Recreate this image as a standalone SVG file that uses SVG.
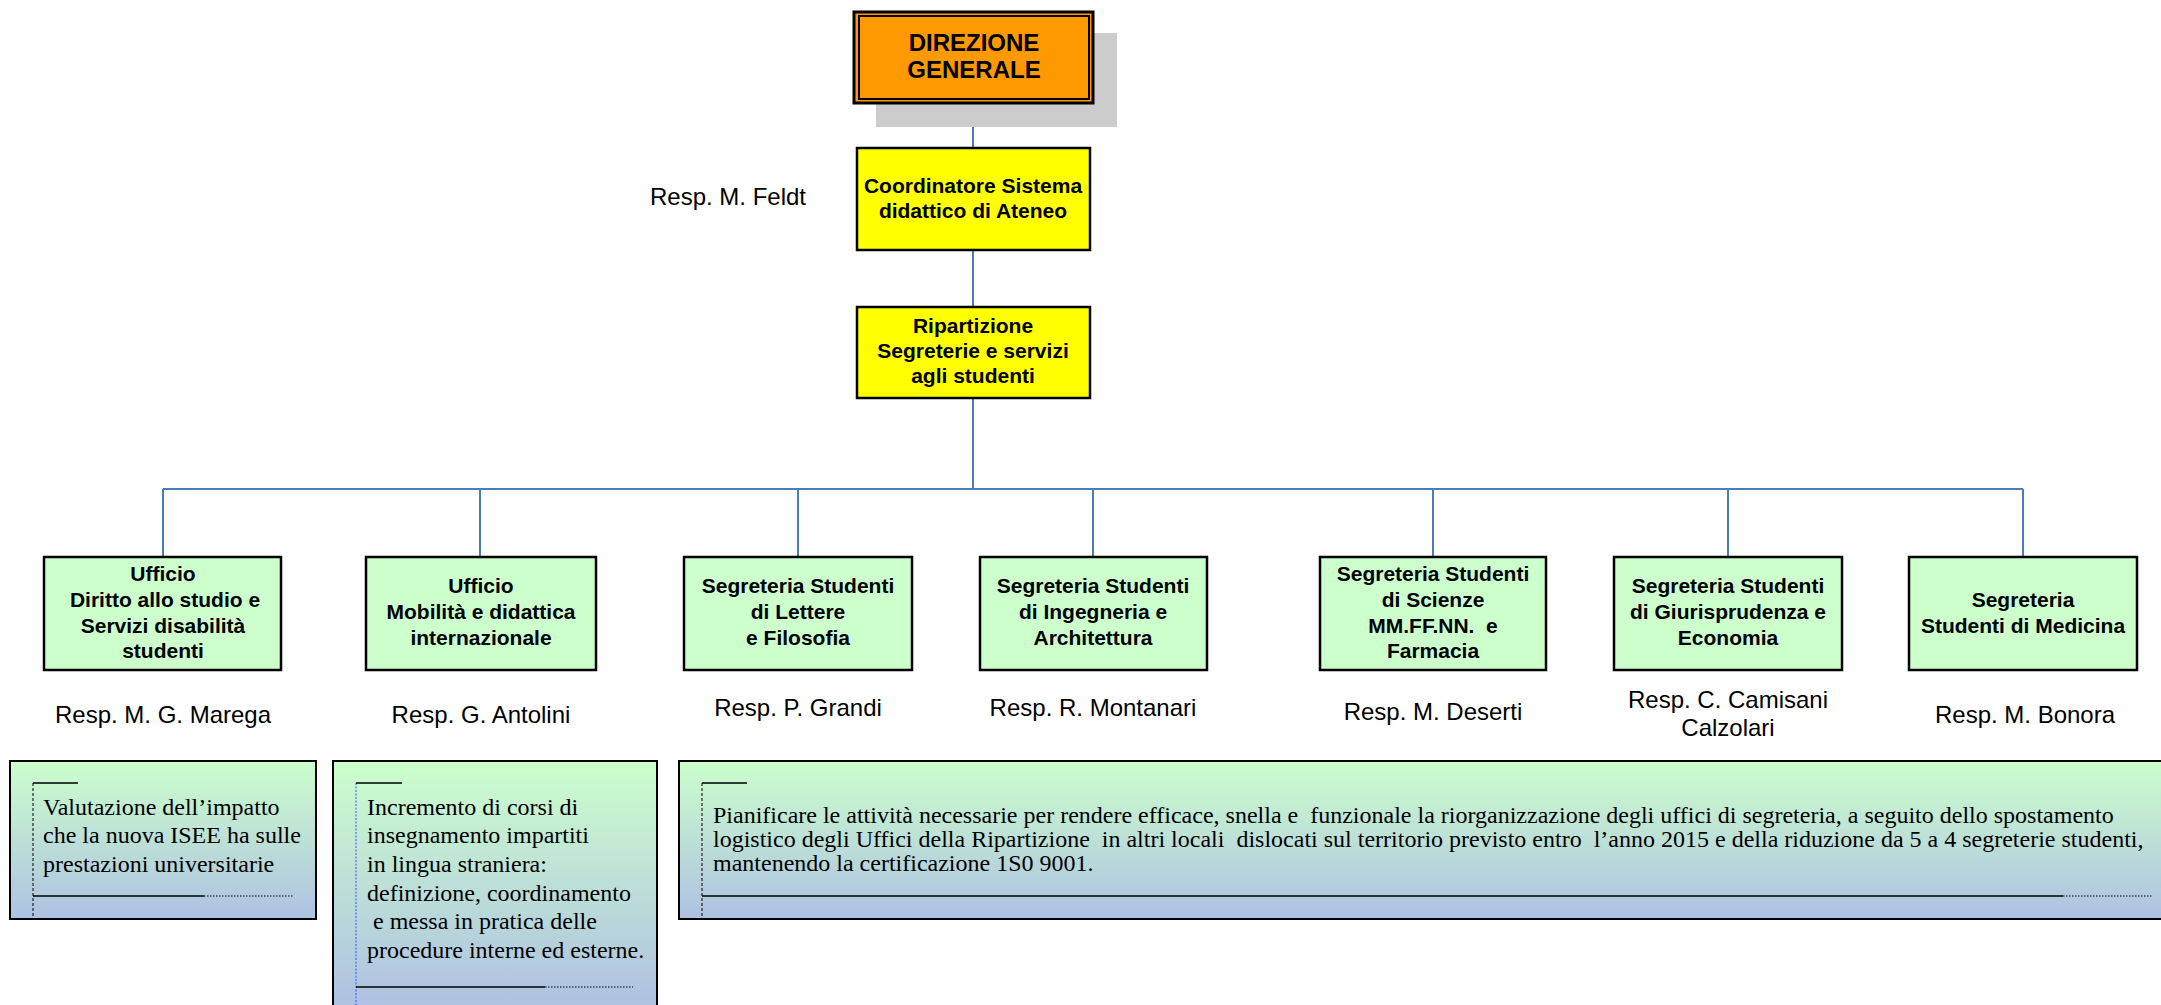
<svg xmlns="http://www.w3.org/2000/svg" width="2161" height="1005" viewBox="0 0 2161 1005">
<defs>
<linearGradient id="gr" x1="0" y1="0" x2="0" y2="1">
<stop offset="0" stop-color="#ccffcc"/>
<stop offset="1" stop-color="#aec1e2"/>
</linearGradient>
<linearGradient id="grB" gradientUnits="userSpaceOnUse" x1="0" y1="761" x2="0" y2="1005">
<stop offset="0" stop-color="#ccffcc"/>
<stop offset="1" stop-color="#aec1e2"/>
</linearGradient>
<style>
.b{font-family:"Liberation Sans",Arial,sans-serif;font-weight:bold;font-size:21px;text-anchor:middle;fill:#000}
.r{font-family:"Liberation Sans",Arial,sans-serif;font-size:24px;text-anchor:middle;fill:#000}
.s{font-family:"Liberation Serif","Times New Roman",serif;font-size:24px;fill:#000}
.g{fill:#ccffcc;stroke:#000;stroke-width:2.5}
.y{fill:#ffff00;stroke:#000;stroke-width:2.5}
.c{stroke:#4a7ebb;stroke-width:2;fill:none}
.ln{stroke:#000;stroke-width:1.5;fill:none}
.dt{stroke:#000;stroke-width:1;stroke-dasharray:1.5 1.5;fill:none}
.dv{stroke:#000;stroke-width:1;stroke-dasharray:3 2;fill:none}
</style>
</defs>
<rect width="2161" height="1005" fill="#fff"/>

<g id="connectors">
<path class="c" d="M973 103V148M973 250V307M973 398V489M163 489H2023M163 489V557M480 489V557M798 489V557M1093 489V557M1433 489V557M1728 489V557M2023 489V557"/>
</g>

<g id="direzione">
<rect x="876" y="33" width="241" height="94" fill="#cccccc"/>
<rect x="854" y="12" width="239" height="91" fill="#ff9900" stroke="#000" stroke-width="3"/>
<rect x="859" y="16" width="230" height="83" fill="none" stroke="#000" stroke-width="2"/>
<text class="b" style="font-size:24px" x="974" y="51">DIREZIONE</text>
<text class="b" style="font-size:24px" x="974" y="78">GENERALE</text>
</g>

<g id="coordinatore">
<rect class="y" x="857" y="148" width="233" height="102"/>
<text class="b" x="973" y="193">Coordinatore Sistema</text>
<text class="b" x="973" y="218">didattico di Ateneo</text>
</g>
<text class="r" id="resp-feldt" x="728" y="205">Resp. M. Feldt</text>

<g id="ripartizione">
<rect class="y" x="857" y="307" width="233" height="91"/>
<text class="b" x="973" y="333">Ripartizione</text>
<text class="b" x="973" y="358">Segreterie e servizi</text>
<text class="b" x="973" y="383">agli studenti</text>
</g>

<g id="ufficio-diritto">
<rect class="g" x="44" y="557" width="237" height="113"/>
<text class="b" x="163" y="581">Ufficio</text>
<text class="b" x="165" y="607">Diritto allo studio e</text>
<text class="b" x="163" y="633">Servizi disabilità</text>
<text class="b" x="163" y="658">studenti</text>
<text class="r" x="163" y="723">Resp. M. G. Marega</text>
</g>

<g id="ufficio-mobilita">
<rect class="g" x="366" y="557" width="230" height="113"/>
<text class="b" x="481" y="593">Ufficio</text>
<text class="b" x="481" y="619">Mobilità e didattica</text>
<text class="b" x="481" y="645">internazionale</text>
<text class="r" x="481" y="723">Resp. G. Antolini</text>
</g>

<g id="segr-lettere">
<rect class="g" x="684" y="557" width="228" height="113"/>
<text class="b" x="798" y="593">Segreteria Studenti</text>
<text class="b" x="798" y="619">di Lettere</text>
<text class="b" x="798" y="645">e Filosofia</text>
<text class="r" x="798" y="716">Resp. P. Grandi</text>
</g>

<g id="segr-ingegneria">
<rect class="g" x="980" y="557" width="227" height="113"/>
<text class="b" x="1093" y="593">Segreteria Studenti</text>
<text class="b" x="1093" y="619">di Ingegneria e</text>
<text class="b" x="1093" y="645">Architettura</text>
<text class="r" x="1093" y="716">Resp. R. Montanari</text>
</g>

<g id="segr-scienze">
<rect class="g" x="1320" y="557" width="226" height="113"/>
<text class="b" x="1433" y="581">Segreteria Studenti</text>
<text class="b" x="1433" y="607">di Scienze</text>
<text class="b" x="1433" y="633" xml:space="preserve">MM.FF.NN.  e</text>
<text class="b" x="1433" y="658">Farmacia</text>
<text class="r" x="1433" y="720">Resp. M. Deserti</text>
</g>

<g id="segr-giurisprudenza">
<rect class="g" x="1614" y="557" width="228" height="113"/>
<text class="b" x="1728" y="593">Segreteria Studenti</text>
<text class="b" x="1728" y="619">di Giurisprudenza e</text>
<text class="b" x="1728" y="645">Economia</text>
<text class="r" x="1728" y="708">Resp. C. Camisani</text>
<text class="r" x="1728" y="736">Calzolari</text>
</g>

<g id="segr-medicina">
<rect class="g" x="1909" y="557" width="228" height="113"/>
<text class="b" x="2023" y="607">Segreteria</text>
<text class="b" x="2023" y="633">Studenti di Medicina</text>
<text class="r" x="2025" y="723">Resp. M. Bonora</text>
</g>

<g id="obiettivo-isee">
<rect x="10" y="761" width="306" height="158" fill="url(#gr)" stroke="#000" stroke-width="2"/>
<path class="dv" d="M33 783V919"/>
<path class="ln" d="M33 783H78M33 896H204"/>
<path class="dt" d="M204 896H294"/>
<text class="s" x="43" y="815">Valutazione dell’impatto</text>
<text class="s" x="43" y="843">che la nuova ISEE ha sulle</text>
<text class="s" x="43" y="872">prestazioni universitarie</text>
</g>

<g id="obiettivo-corsi">
<rect x="333" y="761" width="324" height="260" fill="url(#grB)" stroke="#000" stroke-width="2"/>
<path d="M356 783V1005" stroke="#3355ff" stroke-width="1" stroke-dasharray="2 1.5" fill="none"/>
<path class="ln" d="M356 783H402M356 987H545"/>
<path class="dt" d="M545 987H633"/>
<text class="s" x="367" y="815">Incremento di corsi di</text>
<text class="s" x="367" y="843">insegnamento impartiti</text>
<text class="s" x="367" y="872">in lingua straniera:</text>
<text class="s" x="367" y="901">definizione, coordinamento</text>
<text class="s" x="367" y="929" xml:space="preserve"> e messa in pratica delle</text>
<text class="s" x="367" y="958">procedure interne ed esterne.</text>
</g>

<g id="obiettivo-riorganizzazione">
<rect x="679" y="761" width="1490" height="158" fill="url(#gr)" stroke="#000" stroke-width="2"/>
<path class="dv" d="M702 783V919"/>
<path class="ln" d="M702 783H747M702 896H2063"/>
<path class="dt" d="M2063 896H2152"/>
<text class="s" x="713" y="823" xml:space="preserve">Pianificare le attività necessarie per rendere efficace, snella e  funzionale la riorganizzazione degli uffici di segreteria, a seguito dello spostamento</text>
<text class="s" x="713" y="847" xml:space="preserve">logistico degli Uffici della Ripartizione  in altri locali  dislocati sul territorio previsto entro  l’anno 2015 e della riduzione da 5 a 4 segreterie studenti,</text>
<text class="s" x="713" y="871">mantenendo la certificazione 1S0 9001.</text>
</g>
</svg>
